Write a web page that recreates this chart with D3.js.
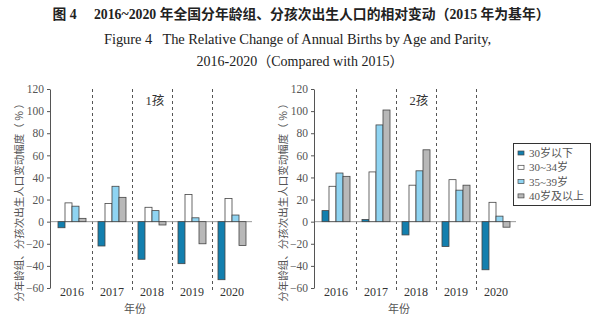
<!DOCTYPE html>
<html>
<head>
<meta charset="utf-8">
<script src="https://cdn.jsdelivr.net/npm/d3@7"></script>
<style>
  body { margin: 0; background: #fff; }
  svg { display: block; }
  text { font-family: "Liberation Serif", "Noto Sans CJK SC", serif; }
</style>
</head>
<body>
<div class="center"></div>
<script>
const w = 600;
const h = 333;

// data
const years = ["2016", "2017", "2018", "2019", "2020"];
const groups = ["30岁以下", "30~34岁", "35~39岁", "40岁及以上"];
const yTicks = [-60, -40, -20, 0, 20, 40, 60, 80, 100, 120];

// 1孩
const first_under30 = [-5.5, -22, -34, -38, -52.5];
const first_30_34 = [17, 16.5, 13, 24.5, 21];
const first_35_39 = [14, 32, 10, 3.5, 6];
const first_40plus = [3, 22, -3, -20, -21.5];

// 2孩
const second_under30 = [10, 2, -12, -22.5, -43.5];
const second_30_34 = [32, 45, 33, 38, 17.5];
const second_35_39 = [44, 87.5, 46, 28.5, 5];
const second_40plus = [41, 101, 65, 33, -5];

const colors = ["#137fae", "#ffffff", "#8fd4f2", "#b8b8b8"];
const ink = "#555";

const svg = d3.select(".center")
    .append("svg")
    .attr("width", w)
    .attr("height", h);

// titles
svg.append("text")
    .attr("x", 301).attr("y", 19)
    .attr("text-anchor", "middle")
    .attr("font-size", 13.8)
    .attr("font-weight", "bold")
    .attr("fill", "#222")
    .text("图 4\u2003 2016~2020 年全国分年龄组、分孩次出生人口的相对变动（2015 年为基年）");

svg.append("text")
    .attr("x", 104).attr("y", 44)
    .attr("font-size", 14.5)
    .attr("fill", "#222")
    .attr("textLength", 387)
    .attr("xml:space", "preserve")
    .text("Figure 4   The Relative Change of Annual Births by Age and Parity,");

svg.append("text")
    .attr("x", 300).attr("y", 66)
    .attr("text-anchor", "middle")
    .attr("font-size", 14)
    .attr("fill", "#222")
    .text("2016-2020（Compared with 2015）");

const yScale = d3.scaleLinear().domain([-60, 120]).range([288, 89]);

function panel(x0, label, series) {
    const g = svg.append("g");

    const xScale = d3.scaleBand().domain(years).range([x0 + 2, x0 + 202]);
    const inner = d3.scaleBand().domain(groups).range([6, 34]);

    // dashed separators
    g.selectAll(".sep")
        .data(years.slice(1))
        .enter()
        .append("line")
        .attr("x1", d => xScale(d) + 0.5)
        .attr("x2", d => xScale(d) + 0.5)
        .attr("y1", 89)
        .attr("y2", 290)
        .attr("stroke", ink)
        .attr("stroke-width", 1)
        .attr("stroke-dasharray", "3,3");

    // zero line
    g.append("line")
        .attr("x1", x0).attr("x2", x0 + 202)
        .attr("y1", yScale(0)).attr("y2", yScale(0))
        .attr("stroke", "#999");

    // bars
    series.forEach((vals, si) => {
        g.selectAll(".bar" + si)
            .data(vals)
            .enter()
            .append("rect")
            .attr("x", (d, i) => xScale(years[i]) + inner(groups[si]))
            .attr("y", d => yScale(Math.max(0, d)))
            .attr("width", inner.bandwidth())
            .attr("height", d => Math.abs(yScale(d) - yScale(0)))
            .attr("fill", colors[si])
            .attr("stroke", "#444")
            .attr("stroke-width", 0.8);
    });

    // y axis
    const yAxis = d3.axisLeft(yScale)
        .tickValues(yTicks)
        .tickSize(3)
        .tickSizeOuter(0)
        .tickPadding(3)
        .tickFormat(d => d < 0 ? "\u2212" + Math.abs(d) : d);
    const ya = g.append("g")
        .attr("transform", `translate(${x0},0)`)
        .call(yAxis);
    ya.selectAll("path, line").attr("stroke", ink);
    ya.selectAll("text")
        .attr("font-size", 11.5)
        .attr("fill", ink)
        .style("font-family", "'Liberation Serif', serif");

    // x labels
    g.selectAll(".yr")
        .data(years)
        .enter()
        .append("text")
        .attr("x", d => xScale(d) + xScale.bandwidth() / 2)
        .attr("y", 296)
        .attr("text-anchor", "middle")
        .attr("font-size", 12)
        .attr("fill", "#333")
        .text(d => d);

    g.append("text")
        .attr("x", x0 + 85).attr("y", 313)
        .attr("text-anchor", "middle")
        .attr("font-size", 11)
        .attr("fill", ink)
        .style("font-family", "'Noto Sans CJK SC', sans-serif")
        .text("年份");

    // y title
    g.append("text")
        .attr("transform", `translate(${x0 - 27},200) rotate(-90)`)
        .attr("text-anchor", "middle")
        .attr("font-size", 10.5)
        .attr("fill", ink)
        .style("font-family", "'Noto Sans CJK SC', sans-serif")
        .text("分年龄组、分孩次出生人口变动幅度（ % ）");

    // panel label
    g.append("text")
        .attr("x", x0 + 105).attr("y", 105)
        .attr("text-anchor", "middle")
        .attr("font-size", 12.5)
        .attr("fill", "#333")
        .text(label);
}

panel(50, "1孩", [first_under30, first_30_34, first_35_39, first_40plus]);
panel(314, "2孩", [second_under30, second_30_34, second_35_39, second_40plus]);

// legend
const lg = svg.append("g").attr("transform", "translate(513,143)");
lg.append("rect")
    .attr("x", 0.5).attr("y", 0.5)
    .attr("width", 77).attr("height", 62)
    .attr("fill", "#fff")
    .attr("stroke", "#333");
const item = lg.selectAll(".item")
    .data(groups)
    .enter()
    .append("g")
    .attr("transform", (d, i) => `translate(0,${10 + i * 14.3})`);
item.append("rect")
    .attr("x", 5).attr("y", -2)
    .attr("width", 6).attr("height", 4)
    .attr("fill", (d, i) => colors[i])
    .attr("stroke", "#444")
    .attr("stroke-width", 0.7);
item.append("text")
    .attr("x", 16).attr("y", 4)
    .attr("font-size", 11)
    .attr("fill", ink)
    .text(d => d);
</script>
</body>
</html>
